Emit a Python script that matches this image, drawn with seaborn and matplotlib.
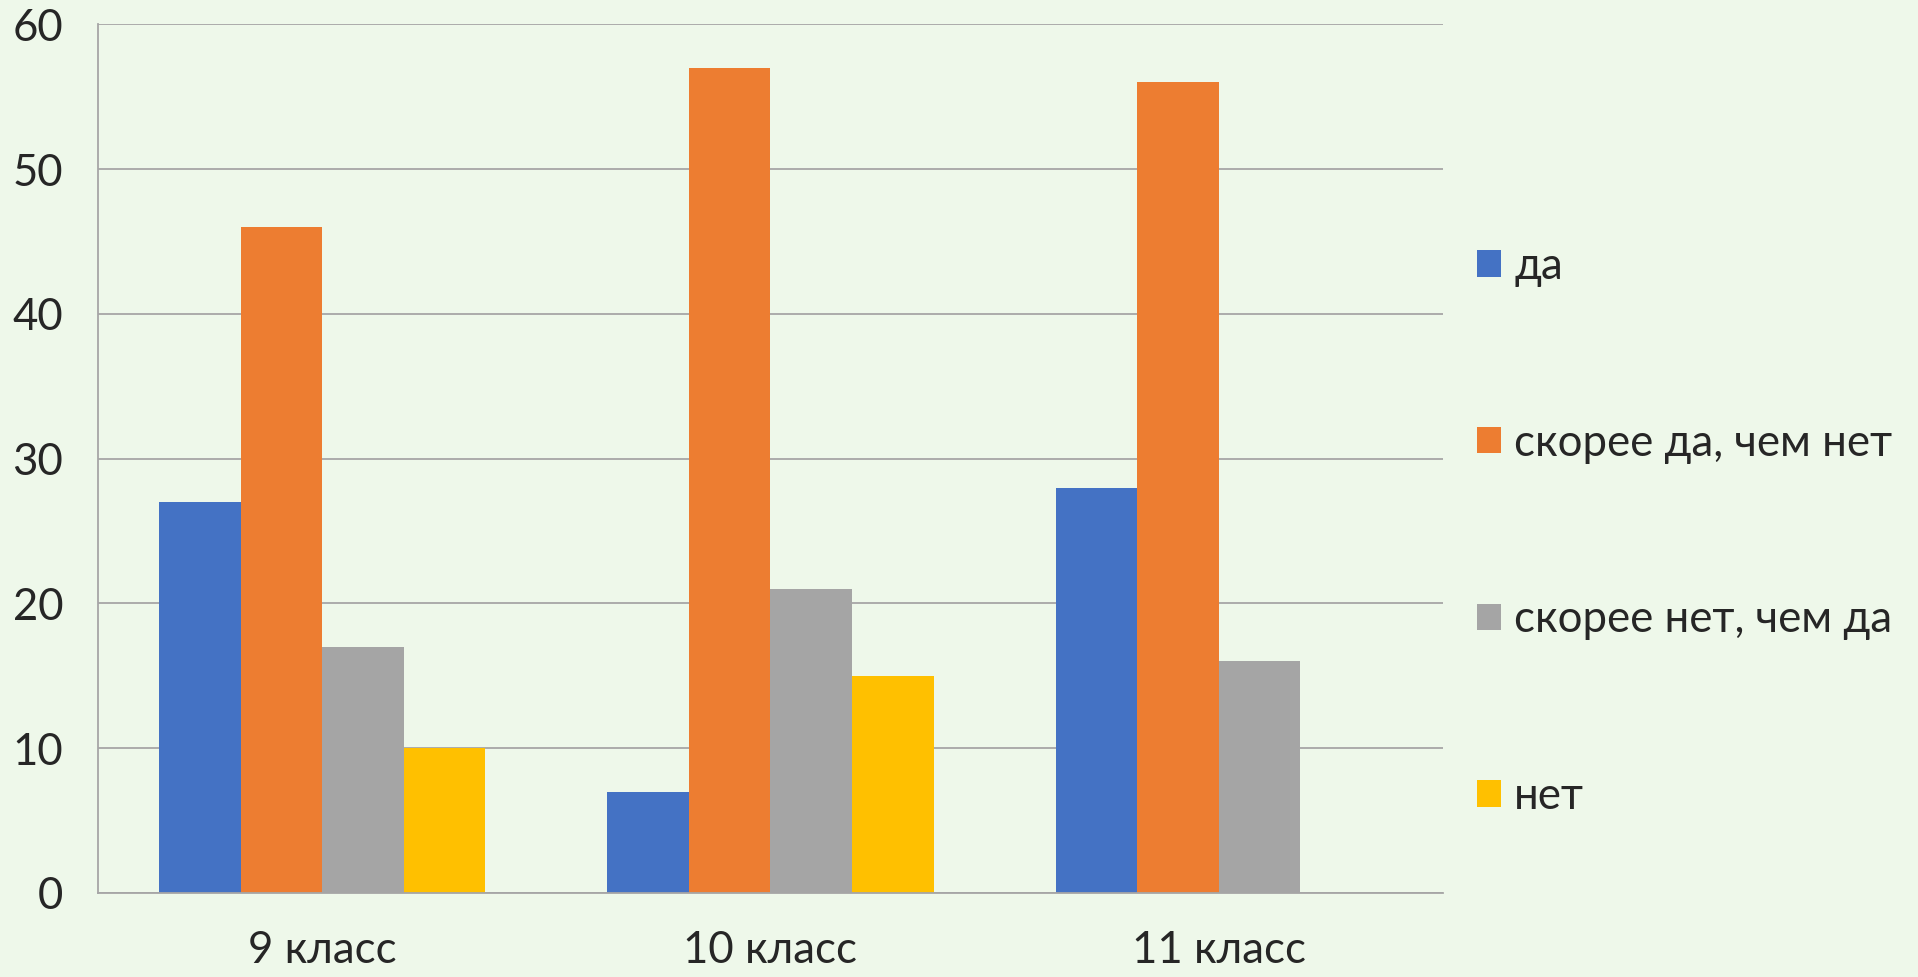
import pandas as pd
import matplotlib
matplotlib.use("Agg")
import matplotlib.pyplot as plt
from matplotlib.patches import Patch
import seaborn as sns

# =============================
# Données
# =============================
classes = ["9 класс", "10 класс", "11 класс"]
answers = ["да", "скорее да, чем нет", "скорее нет, чем да", "нет"]

da = [27, 7, 28]
skoree_da = [46, 57, 56]
skoree_net = [17, 21, 16]
net = [10, 15, 0]

colors = ["#4472C4", "#ED7D31", "#A5A5A5", "#FFC000"]
bg = "#EEF8EA"
grid_col = "#A6A6A6"

# tableau long pour seaborn
rows = []
for serie, vals in zip(answers, [da, skoree_da, skoree_net, net]):
    for cl, v in zip(classes, vals):
        rows.append({"класс": cl, "ответ": serie, "значение": v})
df = pd.DataFrame(rows)

# =============================
# Figure
# =============================
sns.set_style("white")
plt.rcParams["font.family"] = ["Lato", "DejaVu Sans"]
fs = 31.5

fig = plt.figure(figsize=(19.18, 9.77), dpi=100, facecolor=bg)
ax = fig.add_axes([0.0511, 0.086, 0.7012, 0.889])
ax.set_facecolor(bg)

sns.barplot(
    data=df, x="класс", y="значение", hue="ответ",
    order=classes, hue_order=answers, palette=colors, saturation=1,
    width=0.728, gap=0, linewidth=0, legend=False, ax=ax
)

ax.set_ylim(0, 60)
ax.set_xlim(-0.5, 2.5)
ax.set_yticks(range(0, 61, 10))
ax.yaxis.grid(True, color=grid_col, linewidth=1.3)
ax.set_axisbelow(True)

# ticks
ax.tick_params(axis="y", length=10, width=1.3, color=grid_col, pad=15, labelsize=fs)
ax.tick_params(axis="x", which="major", length=0, pad=27, labelsize=fs)
ax.set_xticks([-0.5, 0.5, 1.5, 2.5], minor=True)
ax.tick_params(axis="x", which="minor", length=10, width=1.3, color=grid_col)

for side in ["top", "right"]:
    ax.spines[side].set_visible(False)
for side in ["left", "bottom"]:
    ax.spines[side].set_color(grid_col)
    ax.spines[side].set_linewidth(1.3)

ax.set_xlabel("")
ax.set_ylabel("")

# légende à droite
handles = [Patch(facecolor=c, edgecolor="none") for c in colors]
fig.legend(
    handles, answers,
    loc="center left", bbox_to_anchor=(0.7495, 0.456),
    frameon=False, fontsize=fs,
    handlelength=0.55, handleheight=0.55, handletextpad=0.3,
    labelspacing=3.1
)

fig.savefig("out.png", dpi=100, facecolor=bg)
